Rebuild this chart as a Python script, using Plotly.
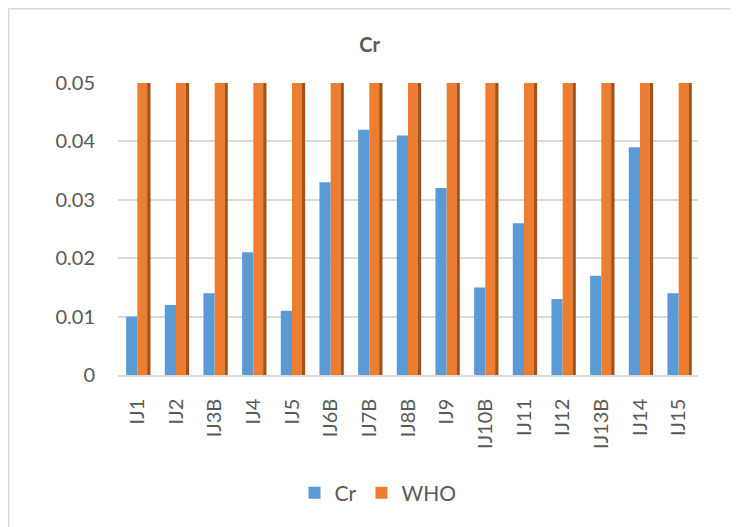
import plotly.graph_objects as go

categories = ["IJ1", "IJ2", "IJ3B", "IJ4", "IJ5", "IJ6B", "IJ7B", "IJ8B", "IJ9",
              "IJ10B", "IJ11", "IJ12", "IJ13B", "IJ14", "IJ15"]
cr_values = [0.010, 0.012, 0.014, 0.021, 0.011, 0.033, 0.042, 0.041, 0.032,
             0.015, 0.026, 0.013, 0.017, 0.039, 0.014]
who_values = [0.05] * 15
y_ticks = [0, 0.01, 0.02, 0.03, 0.04, 0.05]
y_tick_labels = ["0", "0.01", "0.02", "0.03", "0.04", "0.05"]

BLUE = "#5b9bd5"
ORANGE = "#ed7d31"
ORANGE_SIDE = "#a0521c"
FONT = "Lato"
TXT = "#595959"

L, R, T, B = 110, 48, 75, 160
PW, PH = 738 - L - R, 527 - T - B

fig = go.Figure()
fig.add_trace(go.Bar(x=categories, y=cr_values, name="Cr", marker_color=BLUE,
                     offset=-0.29, width=0.29, marker_line_width=0))
fig.add_trace(go.Bar(x=categories, y=who_values, name="WHO side", marker_color=ORANGE_SIDE,
                     offset=0.25, width=0.09, marker_line_width=0, showlegend=False,
                     hoverinfo="skip"))
fig.add_trace(go.Bar(x=categories, y=who_values, name="WHO", marker_color=ORANGE,
                     offset=0.0, width=0.26, marker_line_width=0))

fig.update_layout(
    width=738, height=527,
    barmode="overlay",
    paper_bgcolor="white", plot_bgcolor="white",
    margin=dict(l=L, r=R, t=T, b=B, autoexpand=False),
    font=dict(family=FONT, color=TXT),
    title=dict(text="<b>Cr</b>", x=0.49, xanchor="center", y=0.93, yanchor="middle",
               font=dict(size=20, color=TXT, family=FONT)),
    showlegend=True,
    legend=dict(orientation="h", x=(370 - L) / PW, xanchor="center",
                y=(PH - 485 + T) / PH, yanchor="middle",
                font=dict(size=21, color=TXT, family=FONT),
                itemwidth=30, traceorder="normal"),
    shapes=[dict(type="rect", xref="paper", yref="paper",
                 x0=(0.75 - L) / PW, x1=(760 - L) / PW,
                 y0=(T + PH - 560) / PH, y1=(T + PH - 0.75) / PH,
                 line=dict(color="#d9d9d9", width=1.5), fillcolor="rgba(0,0,0,0)",
                 layer="below")],
)
fig.update_yaxes(range=[0, 0.05], tickvals=y_ticks, ticktext=y_tick_labels,
                 showgrid=True, gridcolor="#d9d9d9", gridwidth=1.5,
                 zeroline=False, showline=False, ticks="",
                 ticklabelstandoff=22,
                 tickfont=dict(size=20, color=TXT, family=FONT))
fig.update_xaxes(tickangle=-90, showgrid=False, showline=True, linecolor="#d9d9d9",
                 linewidth=1.5, ticks="", ticklabelstandoff=14,
                 tickfont=dict(size=20, color=TXT, family=FONT))

fig.write_html("out.html")
